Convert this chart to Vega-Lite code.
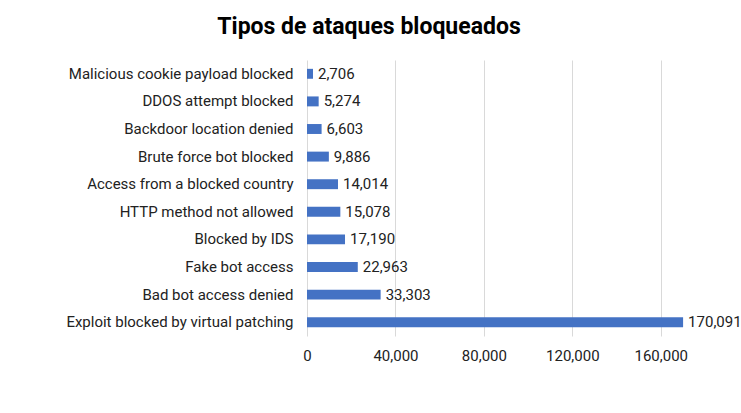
{
  "$schema": "https://vega.github.io/schema/vega-lite/v6.json",
  "autosize": "none",
  "width": 398,
  "height": 276,
  "padding": {"left": 307, "top": 60, "right": 36, "bottom": 77},
  "background": "white",
  "title": {
    "text": "Tipos de ataques bloqueados",
    "font": "Roboto",
    "fontSize": 23,
    "fontWeight": "bold",
    "color": "#000000",
    "anchor": "middle",
    "frame": "group",
    "dx": -137,
    "offset": 21
  },
  "data": {
    "values": [
      {"tipo": "Malicious cookie payload blocked", "valor": 2706},
      {"tipo": "DDOS attempt blocked", "valor": 5274},
      {"tipo": "Backdoor location denied", "valor": 6603},
      {"tipo": "Brute force bot blocked", "valor": 9886},
      {"tipo": "Access from a blocked country", "valor": 14014},
      {"tipo": "HTTP method not allowed", "valor": 15078},
      {"tipo": "Blocked by IDS", "valor": 17190},
      {"tipo": "Fake bot access", "valor": 22963},
      {"tipo": "Bad bot access denied", "valor": 33303},
      {"tipo": "Exploit blocked by virtual patching", "valor": 170091}
    ]
  },
  "config": {
    "view": {"stroke": null},
    "font": "Roboto"
  },
  "encoding": {
    "y": {
      "field": "tipo",
      "type": "nominal",
      "sort": null,
      "title": null,
      "scale": {"paddingInner": 0.64, "paddingOuter": 0.32},
      "axis": {
        "domain": false,
        "ticks": false,
        "grid": false,
        "labelFont": "Roboto",
        "labelFontSize": 15,
        "labelColor": "#222222",
        "labelPadding": 14,
        "labelLimit": 400
      }
    },
    "x": {
      "field": "valor",
      "type": "quantitative",
      "title": null,
      "scale": {"domain": [0, 180000], "nice": false},
      "axis": {
        "values": [0, 40000, 80000, 120000, 160000],
        "format": ",.0f",
        "domain": false,
        "ticks": false,
        "grid": true,
        "gridColor": "#d9d9d9",
        "labelFont": "Roboto",
        "labelFontSize": 15,
        "labelColor": "#222222",
        "labelPadding": 12,
        "labelFlush": false
      }
    }
  },
  "layer": [
    {
      "mark": {"type": "bar", "color": "#4472c4"}
    },
    {
      "mark": {"type": "text", "align": "left", "baseline": "middle", "dx": 5, "fontSize": 15, "font": "Roboto", "color": "#222222"},
      "encoding": {
        "text": {"field": "valor", "type": "quantitative", "format": ",.0f"}
      }
    }
  ]
}
